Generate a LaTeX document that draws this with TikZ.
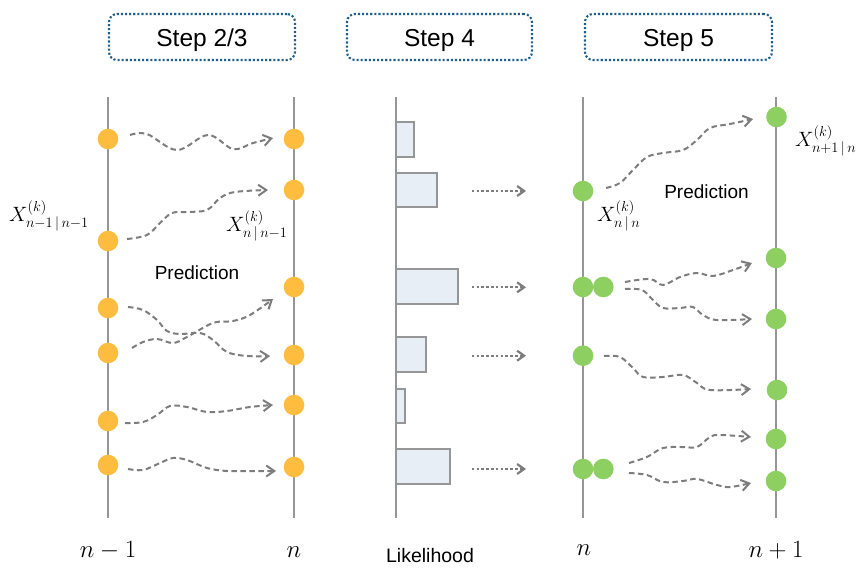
\documentclass[tikz,border=0pt]{standalone}
\usepackage[no-math]{fontspec}
\setmainfont{Liberation Sans}
\usetikzlibrary{arrows.meta}
\definecolor{dotorange}{RGB}{255,189,64}
\definecolor{dotgreen}{RGB}{141,207,96}
\definecolor{axisgray}{RGB}{150,150,150}
\definecolor{arrowgray}{RGB}{125,125,125}
\definecolor{boxblue}{RGB}{30,95,140}
\definecolor{barfill}{RGB}{232,238,246}
\begin{document}
\begin{tikzpicture}[x=1pt,y=-1pt,
  stepbox/.style={draw=boxblue, line width=2.1pt, dash pattern=on 2.1pt off 2pt,
    rounded corners=8pt, minimum height=46pt, inner sep=0pt,
    text height=20pt, text depth=0pt, font=\fontsize{24.5}{28}\selectfont},
  axisline/.style={draw=axisgray, line width=2.3pt},
  odot/.style={circle, fill=dotorange, minimum size=20.6pt, inner sep=0pt},
  gdot/.style={circle, fill=dotgreen, minimum size=20.6pt, inner sep=0pt},
  wave/.style={draw=arrowgray, line width=2pt, dash pattern=on 5.5pt off 3.5pt,
    -{Straight Barb[length=8pt,width=11pt]}},
  dotarrow/.style={draw=arrowgray, line width=2.2pt, dash pattern=on 2.6pt off 2.2pt,
    -{Straight Barb[length=7pt,width=10pt]}},
  bar/.style={draw=axisgray, line width=2pt, fill=barfill},
  mlab/.style={inner sep=0pt, anchor=base west, font=\fontsize{20.5}{24}\selectfont},
  blab/.style={inner sep=0pt, anchor=base, font=\fontsize{24}{28}\selectfont},
  tlab/.style={inner sep=0pt, anchor=base, font=\fontsize{19}{22}\selectfont}]
\useasboundingbox (0,0) rectangle (867,572);

% step boxes
\node[stepbox, minimum width=186pt] (s23) at (202,37) {Step 2/3};
\node[stepbox, minimum width=185pt] (s4) at (439.5,37) {Step 4};
\node[stepbox, minimum width=187pt] (s5) at (678.5,37) {Step 5};

% axes
\draw[axisline] (108,97) -- (108,518);
\draw[axisline] (294,97) -- (294,518);
\draw[axisline] (395.7,97) -- (395.7,518);
\draw[axisline] (583,97) -- (583,518);
\draw[axisline] (776,97) -- (776,518);

% histogram bars
\draw[bar] (395.7,122.3) rectangle (414.3,156.7);
\draw[bar] (395.7,172.7) rectangle (436.7,207.3);
\draw[bar] (395.7,269.3) rectangle (457.7,304.3);
\draw[bar] (395.7,337.3) rectangle (426,372.3);
\draw[bar] (395.7,389) rectangle (405,423.3);
\draw[bar] (395.7,449.3) rectangle (450.3,484.3);

% orange dots
\node[odot] (o1) at (108,139) {};
\node[odot] (o2) at (108,241) {};
\node[odot] (o3) at (108,308) {};
\node[odot] (o4) at (108,353) {};
\node[odot] (o5) at (108,421) {};
\node[odot] (o6) at (108,465) {};
\node[odot] (p1) at (294,139) {};
\node[odot] (p2) at (294,190) {};
\node[odot] (p3) at (294,287) {};
\node[odot] (p4) at (294,355) {};
\node[odot] (p5) at (294,405) {};
\node[odot] (p6) at (294,467) {};

% green dots
\node[gdot] (g1) at (583,191) {};
\node[gdot] (g2) at (583,287) {};
\node[gdot] (g2b) at (603.3,287) {};
\node[gdot] (g3) at (583,355.7) {};
\node[gdot] (g4) at (583,469) {};
\node[gdot] (g4b) at (603.3,469) {};
\node[gdot] (h1) at (776.5,117) {};
\node[gdot] (h2) at (776,258) {};
\node[gdot] (h3) at (776,319) {};
\node[gdot] (h4) at (777,390) {};
\node[gdot] (h5) at (776,439) {};
\node[gdot] (h6) at (776,481) {};

% prediction arrows, left
\draw[wave] plot[smooth, tension=0.6] coordinates {(130,135) (147,134) (177,150) (208,135) (233,149) (253,143) (273,138)};
\draw[wave] plot[smooth, tension=0.6] coordinates {(127,239) (147,235) (160,223) (172,213) (187,212) (207,210) (220,198) (235,192) (268,190)};
\draw[wave] plot[smooth, tension=0.6] coordinates {(128,307) (143,310) (157,320) (167,331) (180,334) (200,333) (213,340) (227,352) (247,356) (270,356)};
\draw[wave] plot[smooth, tension=0.6] coordinates {(132,348) (143,342) (157,339) (173,343) (187,337) (213,323) (233,321) (250,315) (273,299)};
\draw[wave] plot[smooth, tension=0.6] coordinates {(125,423) (143,422) (157,415) (170,406) (187,407) (207,412) (227,411) (250,407) (273,405)};
\draw[wave] plot[smooth, tension=0.6] coordinates {(128,469) (143,470) (160,463) (173,458) (187,460) (207,468) (227,471) (253,471) (276,471)};

% likelihood arrows
\draw[dotarrow] (471.7,191) -- (526,191);
\draw[dotarrow] (471.7,287.3) -- (526,287.3);
\draw[dotarrow] (471.7,355.7) -- (526,355.7);
\draw[dotarrow] (471.7,469) -- (526,469);

% prediction arrows, right
\draw[wave] plot[smooth, tension=0.6] coordinates {(606,188) (620,183) (633,170) (647,157) (663,153) (683,150) (697,140) (710,128) (730,124) (753,119)};
\draw[wave] plot[smooth, tension=0.6] coordinates {(625,282) (650,279) (663,285) (680,277) (697,273) (713,276) (733,270) (752,263)};
\draw[wave] plot[smooth, tension=0.6] coordinates {(625,289) (642,290) (653,300) (663,308) (680,308) (693,307) (703,315) (717,320) (752,319)};
\draw[wave] plot[smooth, tension=0.6] coordinates {(604,356) (620,357) (633,368) (643,377) (663,377) (683,375) (697,383) (710,390) (751,389)};
\draw[wave] plot[smooth, tension=0.6] coordinates {(629,463) (647,457) (663,448) (683,447) (697,447) (710,437) (720,435) (751,437)};
\draw[wave] plot[smooth, tension=0.6] coordinates {(629,473) (647,475) (663,482) (683,481) (697,479) (717,485) (730,487) (751,483)};

% math labels
\node[mlab] (lx1) at (9,222) {$X^{(k)}_{n-1\,|\,n-1}$};
\node[mlab] (lx2) at (226,232) {$X^{(k)}_{n\,|\,n-1}$};
\node[mlab] (lx3) at (597,222) {$X^{(k)}_{n\,|\,n}$};
\node[mlab] (lx4) at (795,147) {$X^{(k)}_{n+1\,|\,n}$};

% text labels
\node[tlab] (pr1) at (197,279) {Prediction};
\node[tlab] (pr2) at (706.5,199) {Prediction};
\node[tlab, font=\fontsize{19.5}{22}\selectfont] (lk) at (430,562) {Likelihood};

% bottom labels
\node[blab] (b1) at (108,557) {$n-1$};
\node[blab] (b2) at (294,557) {$n$};
\node[blab] (b3) at (584,555) {$n$};
\node[blab] (b4) at (776,557) {$n+1$};
\end{tikzpicture}
\end{document}
